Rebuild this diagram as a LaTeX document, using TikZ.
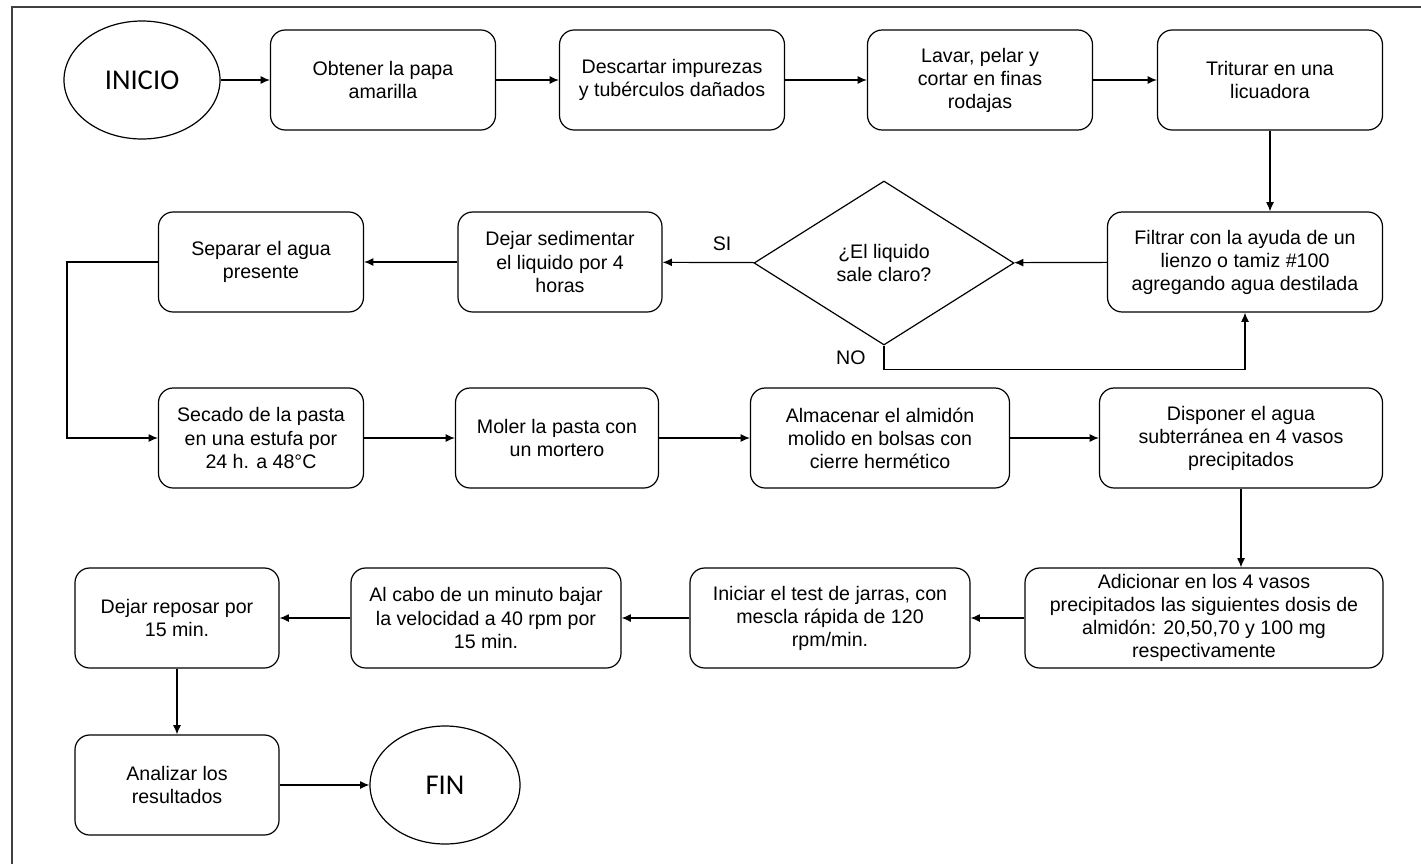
\documentclass[tikz,border=0pt]{standalone}
\usepackage{fontspec}
\setmainfont{Liberation Sans}
\newfontfamily\calibri{Carlito}
\usetikzlibrary{shapes.geometric,arrows.meta}
\tikzset{
  caja/.style={draw, rounded corners=11pt, align=center, inner sep=0pt,
    minimum height=75pt, font=\fontsize{14.7}{17.3}\selectfont},
  ancho/.style={minimum width=#1*0.75pt},
  terminal/.style={draw, ellipse, inner sep=0pt, font=\calibri\fontsize{21.5}{24}\selectfont},
  decision/.style={draw, diamond, inner sep=0pt, align=center,
    font=\fontsize{14.7}{17.3}\selectfont},
  etiqueta/.style={font=\fontsize{14.7}{17.3}\selectfont},
  >={Latex[length=7pt,width=6pt]}
}
\begin{document}
\begin{tikzpicture}[x=0.75pt, y=-0.75pt, line width=0.9pt]
  \useasboundingbox (0,0) rectangle (1421,864);
  \draw[line width=0.8pt, black!75] (12,864) -- (12,7) -- (1421,7);

  \node[terminal, minimum width=156*0.75pt, minimum height=118*0.75pt] (inicio) at (142,80) {INICIO};
  \node[caja, ancho=225] (obtener) at (383,80) {Obtener la papa\\amarilla};
  \node[caja, ancho=225] (descartar) at (672,80) {Descartar impurezas\\y tubérculos dañados};
  \node[caja, ancho=225] (lavar) at (980,80) {Lavar, pelar y\\cortar en finas\\rodajas};
  \node[caja, ancho=225] (triturar) at (1270,80) {Triturar en una\\licuadora};

  \node[caja, ancho=275] (filtrar) at (1245,262) {Filtrar con la ayuda de un\\lienzo o tamiz \#100\\agregando agua destilada};
  \node[decision, minimum width=260*0.75pt, minimum height=164*0.75pt] (liquido) at (884,263) {¿El liquido\\sale claro?};
  \node[caja, ancho=204] (sedimentar) at (560,262) {Dejar sedimentar\\el liquido por 4\\horas};
  \node[caja, ancho=205] (separar) at (261,262) {Separar el agua\\presente};

  \node[caja, ancho=205] (secado) at (261,438) {Secado de la pasta\\en una estufa por\\24 h. a 48°C};
  \node[caja, ancho=203] (moler) at (557,438) {Moler la pasta con\\un mortero};
  \node[caja, ancho=259] (almacenar) at (880,438) {Almacenar el almidón\\molido en bolsas con\\cierre hermético};
  \node[caja, ancho=283] (disponer) at (1241,438) {Disponer el agua\\subterránea en 4 vasos\\precipitados};

  \node[caja, ancho=358] (adicionar) at (1204,618) {Adicionar en los 4 vasos\\precipitados las siguientes dosis de\\almidón: 20,50,70 y 100 mg\\respectivamente};
  \node[caja, ancho=280] (iniciar) at (830,618) {Iniciar el test de jarras, con\\mescla rápida de 120\\rpm/min.};
  \node[caja, ancho=270] (alcabo) at (486,618) {Al cabo de un minuto bajar\\la velocidad a 40 rpm por\\15 min.};
  \node[caja, ancho=204] (reposar) at (177,618) {Dejar reposar por\\15 min.};

  \node[caja, ancho=204] (analizar) at (177,785) {Analizar los\\resultados};
  \node[terminal, minimum width=150*0.75pt, minimum height=118*0.75pt] (fin) at (445,785) {FIN};

  \draw[->] (inicio) -- (obtener);
  \draw[->] (obtener) -- (descartar);
  \draw[->] (descartar) -- (lavar);
  \draw[->] (lavar) -- (triturar);
  \draw[->] (triturar.south) -- (triturar.south |- filtrar.north);
  \draw[->] (filtrar) -- (liquido);
  \draw[->] (liquido) -- node[etiqueta, pos=0.35, anchor=south, yshift=5pt]{SI} (sedimentar);
  \draw[->] (liquido.south) -- node[etiqueta, left=10pt]{NO} ++(0,24) -| (filtrar.south);
  \draw[->] (sedimentar) -- (separar);
  \draw[->] (separar.west) -- ++(-91,0) |- (secado.west);
  \draw[->] (secado) -- (moler);
  \draw[->] (moler) -- (almacenar);
  \draw[->] (almacenar) -- (disponer);
  \draw[->] (disponer.south) -- (disponer.south |- adicionar.north);
  \draw[->] (adicionar) -- (iniciar);
  \draw[->] (iniciar) -- (alcabo);
  \draw[->] (alcabo) -- (reposar);
  \draw[->] (reposar) -- (analizar);
  \draw[->] (analizar) -- (fin);
\end{tikzpicture}
\end{document}
